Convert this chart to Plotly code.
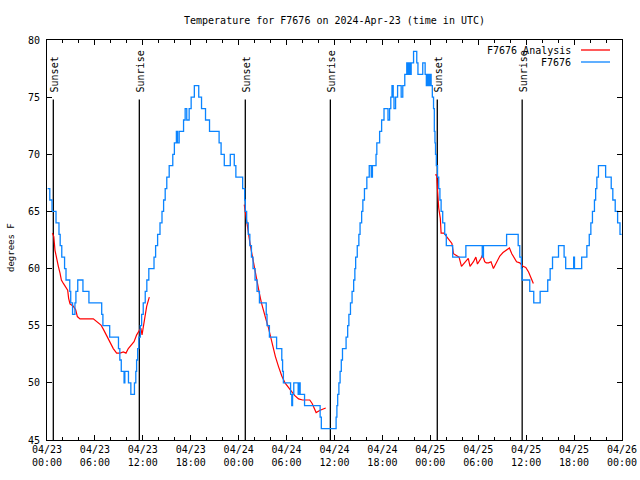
import numpy as np
import pandas as pd
import plotly.graph_objects as go

BASE = pd.Timestamp("2024-04-23 00:00")

# Observed temperature (F7676), change points: hours since 04/23 00:00 UTC, deg F
obs_hours = [0.08, 0.35, 0.63, 1.13, 1.5, 1.65, 1.85, 2.2, 2.38, 2.85, 2.97, 3.2, 3.5, 3.62, 3.85, 4.5, 5.25,
             6.85, 7.0, 7.85, 8.95, 9.12, 9.3, 9.65, 9.75, 10.2, 10.5, 10.95, 11.12, 11.22, 11.35, 11.5,
             11.68, 11.85, 12.05, 12.3, 12.5, 12.75, 13.4, 13.6, 13.85, 14.15, 14.4, 14.6, 14.8, 15.0,
             15.3, 15.75, 15.95, 16.2, 16.35, 16.55, 17.1, 17.3, 17.5, 17.8, 18.05, 18.45, 19.0, 19.35,
             19.85, 20.35, 21.55, 21.8, 22.2, 22.95, 23.45, 23.65, 24.5, 24.75, 24.83, 25.0, 25.2, 25.4,
             25.6, 25.8, 26.05, 26.3, 26.6, 27.45, 27.55, 27.85, 28.75, 29.4, 29.5, 29.6, 30.5, 30.65,
             30.75, 30.9, 31.45, 31.6, 31.7, 32.25, 34.2, 34.35, 36.2, 36.3, 36.4, 36.55, 36.7, 36.85,
             37.0, 37.45, 37.65, 37.8, 38.0, 38.2, 38.4, 38.55, 38.65, 38.85, 39.05, 39.2, 39.4, 39.55,
             39.75, 40.05, 40.35, 40.6, 40.75, 41.2, 41.3, 41.65, 41.9, 42.2, 42.7, 42.9, 43.05, 43.2,
             43.35, 43.45, 43.65, 43.9, 44.35, 44.55, 44.8, 45.05, 45.2, 45.3, 45.45, 45.6, 45.9, 46.3,
             46.45, 47.05, 47.35, 47.5, 47.65, 47.8, 47.95, 48.1, 48.25, 48.4, 48.5, 48.58, 48.65, 48.75,
             48.9, 49.05, 49.2, 49.35, 49.55, 49.8, 50.0, 50.8, 52.45, 54.5, 54.65, 57.55, 59.0, 59.2,
             59.4, 59.5, 60.45, 60.95, 61.75, 62.7, 63.0, 63.3, 64.05, 64.75, 64.95, 65.95, 66.05, 66.95,
             67.6, 67.9, 68.1, 68.3, 68.55, 68.7, 68.85, 69.05, 69.95, 70.65, 70.85, 71.15, 71.45, 71.75,
             71.95]
obs_temps = [67, 66, 65, 64, 63, 62, 61, 60, 59, 58, 57, 56, 57, 58, 59, 58, 57,
             56, 55, 54, 53, 52, 51, 50, 51, 50, 49, 50, 51, 52, 53, 54,
             55, 56, 57, 58, 59, 60, 61, 62, 63, 64, 65, 66, 67, 68,
             69, 70, 71, 72, 71, 72, 73, 74, 73, 74, 75, 76, 75, 74,
             73, 72, 71, 70, 69, 70, 69, 68, 67, 66, 65, 64, 63, 62,
             61, 60, 59, 58, 57, 56, 55, 54, 53, 52, 51, 50, 49, 48,
             49, 50, 49, 50, 49, 48, 47, 46, 47, 48, 49, 50, 51, 52,
             53, 54, 55, 56, 57, 58, 59, 60, 61, 62, 63, 64, 65, 66,
             67, 68, 69, 68, 69, 70, 71, 72, 73, 74, 73, 74, 75, 76,
             75, 74, 75, 76, 75, 76, 77, 78, 77, 78, 77, 78, 79, 78,
             77, 78, 77, 76, 77, 76, 77, 76, 75, 74, 72, 71, 70, 69,
             68, 67, 66, 65, 64, 63, 62, 61, 62, 61, 62, 63, 62, 61,
             60, 59, 58, 57, 58, 59, 60, 61, 62, 61, 60, 61, 60, 61,
             62, 63, 64, 65, 66, 67, 68, 69, 68, 67, 66, 65, 64, 63,
             63]

# Overnight analysis (F7676 Analysis), three nights
ana1_hours = [0.67, 0.85, 1.0, 1.2, 1.42, 1.63, 1.8, 2.05, 2.34, 2.59, 2.71, 2.88, 3.3, 3.59, 3.8, 4.13,
              5.8, 6.22, 6.76, 7.05, 7.47, 7.89, 8.3, 8.72, 9.14, 9.56, 9.89, 10.18, 10.6, 10.9, 11.23,
              11.52, 11.75, 11.9, 12.06, 12.27, 12.48, 12.7, 12.81]
ana1_temps = [63.1, 62.8, 61.6, 60.75, 60.2, 59.6, 59.0, 58.7, 58.4, 58.1, 57.4, 56.9, 56.7, 56.4, 55.8, 55.6,
              55.6, 55.35, 55.06, 54.7, 54.1, 53.6, 53.0, 52.6, 52.6, 52.7, 52.6, 53.0, 53.4, 53.6, 54.2,
              54.6, 54.8, 54.2, 55.1, 55.8, 56.7, 57.4, 57.5]
ana2_hours = [24.7, 24.85, 25.0, 25.2, 25.4, 25.6, 25.85, 26.1, 26.35, 26.6, 26.85, 27.1, 27.4, 27.7, 28.0,
              28.3, 28.6, 29.0, 29.4, 29.8, 30.2, 30.6, 31.0, 31.5, 32.0, 32.9, 33.2, 33.7, 34.2, 34.9]
ana2_temps = [65.6, 64.8, 64.0, 63.2, 62.3, 61.5, 60.5, 59.6, 58.6, 57.8, 57.0, 56.3, 55.6, 54.9, 54.0,
              53.0, 52.3, 51.4, 50.6, 50.0, 49.6, 49.2, 48.9, 48.6, 48.5, 48.5, 48.2, 47.4, 47.6, 47.8]
ana3_hours = [48.6, 48.8, 48.9, 49.05, 49.25, 49.35, 49.7, 50.0, 50.4, 50.7, 50.9, 51.4, 51.6, 51.9, 52.4,
              52.75, 52.97, 53.4, 53.7, 53.9, 54.35, 54.55, 54.8, 55.0, 55.3, 55.6, 55.9, 56.3, 56.7, 57.1,
              57.5, 57.9, 58.2, 58.5, 58.8, 59.2, 59.6, 59.95, 60.3, 60.6, 60.9]
ana3_temps = [68.2, 68.2, 66.9, 65.3, 64.4, 63.1, 63.1, 62.8, 62.5, 62.2, 61.3, 61.1, 61.0, 60.2, 60.6,
              60.9, 60.2, 60.6, 61.0, 60.4, 60.9, 61.2, 60.6, 60.5, 60.5, 60.6, 60.0, 60.6, 61.1, 61.4,
              61.6, 61.8, 61.3, 60.9, 60.6, 60.5, 60.2, 60.1, 59.7, 59.2, 58.7]

sunset_hours = [0.79, 24.83, 48.87]
sunrise_hours = [11.56, 35.48, 59.5]

title_text = "Temperature for F7676 on 2024-Apr-23 (time in UTC)"
y_title = "degrees F"
name_ana = "F7676 Analysis"
name_obs = "F7676"

BLUE = "#0a84ff"
RED = "#ff0000"
FONT = "DejaVu Sans Mono"


def to_time(hours):
    return [BASE + pd.Timedelta(hours=h) for h in hours]


ana_x = to_time(ana1_hours) + [None] + to_time(ana2_hours) + [None] + to_time(ana3_hours)
ana_y = ana1_temps + [None] + ana2_temps + [None] + ana3_temps

fig = go.Figure()
fig.add_trace(go.Scatter(x=ana_x, y=ana_y, mode="lines", name=name_ana,
                         line=dict(color=RED, width=1.2), connectgaps=False, showlegend=False))
fig.add_trace(go.Scatter(x=to_time(obs_hours), y=obs_temps, mode="lines", name=name_obs,
                         line=dict(color=BLUE, width=1.3, shape="hv"), showlegend=False))

for label, hours in (("Sunset", sunset_hours), ("Sunrise", sunrise_hours)):
    for t in to_time(hours):
        fig.add_shape(type="line", xref="x", yref="y", x0=t, x1=t, y0=45, y1=74.8,
                      line=dict(color="black", width=1.3), layer="below")
        fig.add_annotation(x=t, y=75, xref="x", yref="y", text=label, textangle=-90,
                           showarrow=False, xanchor="center", yanchor="bottom", yshift=3, xshift=1,
                           font=dict(family=FONT, size=10, color="black"))

# legend key (gnuplot style: text on the left, sample on the right)
for name, color, ypx in ((name_ana, RED, 50), (name_obs, BLUE, 62)):
    yp = (440 - ypx) / 400
    fig.add_annotation(x=(573 - 47) / 575, y=yp, xref="paper", yref="paper", text=name,
                       showarrow=False, xanchor="right", yanchor="middle",
                       font=dict(family=FONT, size=10, color="black"))
    fig.add_shape(type="line", xref="paper", yref="paper", x0=(581 - 47) / 575, x1=(610 - 47) / 575,
                  y0=yp, y1=yp, line=dict(color=color, width=1.3))

fig.add_annotation(x=(11 - 47) / 575, y=0.48, xref="paper", yref="paper", text=y_title,
                   textangle=-90, showarrow=False, xanchor="center", yanchor="middle",
                   font=dict(family=FONT, size=9, color="black"))

fig.update_layout(
    width=640, height=480,
    margin=dict(l=47, r=18, t=40, b=40, autoexpand=False),
    paper_bgcolor="white", plot_bgcolor="white",
    font=dict(family=FONT, size=10, color="black"),
    title=dict(text=title_text, x=0.5, xref="paper", xanchor="center",
               y=1 - 20 / 480, yref="container", yanchor="middle", automargin=False,
               font=dict(family=FONT, size=10, color="black")),
    showlegend=False,
)
fig.update_xaxes(
    type="date", automargin=False,
    range=[BASE, BASE + pd.Timedelta(hours=72)],
    tick0=BASE, dtick=6 * 3600 * 1000,
    tickformat="%m/%d<br>%H:%M",
    ticks="inside", ticklen=5, tickcolor="black", tickwidth=1,
    minor=dict(dtick=2 * 3600 * 1000, ticks="inside", ticklen=3, tickcolor="black", showgrid=False),
    showline=True, linecolor="black", linewidth=1, mirror="ticks",
    showgrid=False, zeroline=False,
)
fig.update_yaxes(
    range=[45, 80], dtick=5, tick0=45, automargin=False,
    ticks="inside", ticklen=5, tickcolor="black", tickwidth=1,
    showline=True, linecolor="black", linewidth=1, mirror="ticks",
    showgrid=False, zeroline=False, ticklabelstandoff=4,
)

# remove the browser's default 8px page margin so the 640x480 figure fills the window
fig.write_html("out.html",
               config={"displayModeBar": False},
               post_script="document.body.style.margin='0';document.body.style.padding='0';"
                           "document.body.style.overflow='hidden';")
